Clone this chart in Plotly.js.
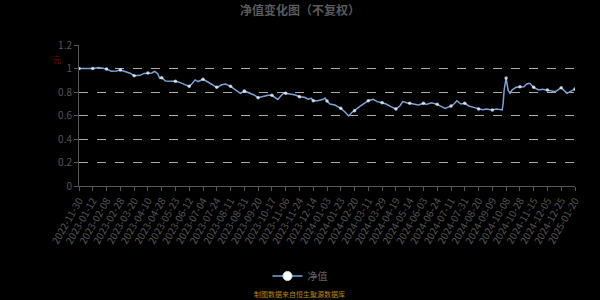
<!DOCTYPE html>
<html>
<head>
<meta charset="utf-8">
<script src="https://cdn.plot.ly/plotly-3.0.1.min.js"></script>
<style>
html,body{margin:0;padding:0;background:#000;}
#chart{width:600px;height:300px;}
</style>
</head>
<body>
<div id="chart"></div>
<script>
// Tick labels (one every 14 trading days)
const tickLabels = ["2022-11-30","2023-01-12","2023-02-08","2023-02-28","2023-03-20","2023-04-10","2023-04-28","2023-05-23","2023-06-12","2023-07-04","2023-07-24","2023-08-11","2023-08-31","2023-09-20","2023-10-17","2023-11-06","2023-11-24","2023-12-14","2024-01-03","2024-01-23","2024-02-20","2024-03-11","2024-03-29","2024-04-19","2024-05-14","2024-06-03","2024-06-24","2024-07-11","2024-07-31","2024-08-20","2024-09-09","2024-10-08","2024-10-28","2024-11-15","2024-12-05","2024-12-25","2025-01-20"];
const tickStep = 14; // trading days between labelled dates

// Trading-day index of each sampled point
const tradingDay = [0,7,14,20,24,28,33,38,42,47,52,56,62,66,70,74,77,80,82,84,88,94,98,103,108,112,115,118,121,126,131,135,140,145,149,154,160,164,168,174,178,182,188,192,196,200,202,205,208,210,216,220,224,229,233,236,238,243,248,250,252,255,260,266,270,274,278,280,285,290,294,299,303,308,312,317,322,326,329,333,336,340,345,348,350,353,358,364,369,372,378,381,384,388,392,396,401,406,410,414,420,424,428,430,431,432,434,436,438,440,444,448,452,455,458,462,467,471,476,481,484,490,493,496,499,502,504];
// Net value (元)
const netValue = [1.000,1.000,1.000,1.008,1.005,0.996,0.976,0.978,0.987,0.972,0.960,0.939,0.942,0.958,0.962,0.962,0.976,0.955,0.916,0.922,0.894,0.896,0.891,0.880,0.865,0.848,0.872,0.903,0.889,0.908,0.885,0.868,0.840,0.862,0.868,0.848,0.817,0.789,0.809,0.789,0.775,0.752,0.766,0.772,0.772,0.745,0.737,0.766,0.789,0.789,0.783,0.774,0.760,0.755,0.738,0.746,0.726,0.726,0.738,0.748,0.723,0.698,0.689,0.661,0.632,0.596,0.632,0.641,0.675,0.704,0.726,0.738,0.718,0.709,0.698,0.675,0.655,0.681,0.718,0.709,0.704,0.698,0.689,0.698,0.704,0.695,0.709,0.695,0.675,0.661,0.680,0.698,0.726,0.698,0.704,0.681,0.669,0.655,0.650,0.655,0.647,0.655,0.652,0.647,0.704,0.817,0.919,0.817,0.789,0.817,0.840,0.845,0.845,0.868,0.874,0.840,0.817,0.823,0.817,0.812,0.803,0.837,0.817,0.789,0.803,0.817,0.825];

const tickVals = tickLabels.map((_, i) => i * tickStep);
const markerSizes = tradingDay.map(d => (d % tickStep === 0 ? 3.5 : 0));
const lineColor = '#7aa4d8';

const traces = [
  {
    x: tradingDay, y: netValue, type: 'scatter', mode: 'lines+markers',
    line: {color: lineColor, width: 1.5},
    marker: {color: '#ffffff', size: markerSizes, line: {width: 0}},
    showlegend: false, hoverinfo: 'skip'
  },
  {
    x: [null], y: [null], type: 'scatter', mode: 'lines+markers', name: '净值',
    line: {color: lineColor, width: 1.5},
    marker: {color: '#ffffff', size: 9, line: {color: '#cfe0ff', width: 1}},
    showlegend: true
  }
];

const layout = {
  width: 600, height: 300,
  paper_bgcolor: '#000', plot_bgcolor: '#000',
  margin: {l: 79, r: 25, t: 45, b: 114, autoexpand: false},
  font: {family: '"Noto Sans CJK SC", "Noto Sans", sans-serif', color: '#666', size: 10},
  title: {text: '<b>净值变化图（不复权）</b>', x: 0.5, xanchor: 'center', xref: 'container',
          yref: 'container', y: 0.965, yanchor: 'middle',
          font: {size: 12, color: '#5a5a5a', family: '"Noto Sans CJK SC", sans-serif'}},
  xaxis: {
    range: [0, 504], tickmode: 'array', tickvals: tickVals, ticktext: tickLabels,
    tickangle: -60, tickfont: {size: 10, color: '#555'}, automargin: false,
    showgrid: false, zeroline: false, showline: true, linecolor: '#555', linewidth: 1,
    ticks: 'outside', ticklen: 4, tickcolor: '#555'
  },
  yaxis: {
    range: [0, 1.2], dtick: 0.2, tick0: 0, tickfont: {size: 10, color: '#555'}, automargin: false,
    showgrid: true, gridcolor: '#aaaaaa', griddash: 'dash', gridwidth: 1,
    zeroline: false, showline: true, linecolor: '#555', linewidth: 1,
    ticks: 'outside', ticklen: 4, tickcolor: '#555'
  },
  legend: {orientation: 'h', xref: 'container', x: 0.5, xanchor: 'center',
           yref: 'container', y: 0.08, yanchor: 'middle',
           font: {size: 10, color: '#666'}, bgcolor: 'rgba(0,0,0,0)'},
  annotations: [
    {text: '元', xref: 'paper', yref: 'paper', x: -0.044, y: 0.894, xanchor: 'center', yanchor: 'middle',
     showarrow: false, font: {size: 8, color: '#8b0000'}},
    {text: '制图数据来自恒生聚源数据库', xref: 'paper', yref: 'paper', x: 0.445, y: -0.769,
     xanchor: 'center', yanchor: 'middle', showarrow: false,
     font: {size: 7, color: '#b8860b'}}
  ]
};

Plotly.newPlot('chart', traces, layout, {displayModeBar: false, staticPlot: true});
</script>
</body>
</html>
